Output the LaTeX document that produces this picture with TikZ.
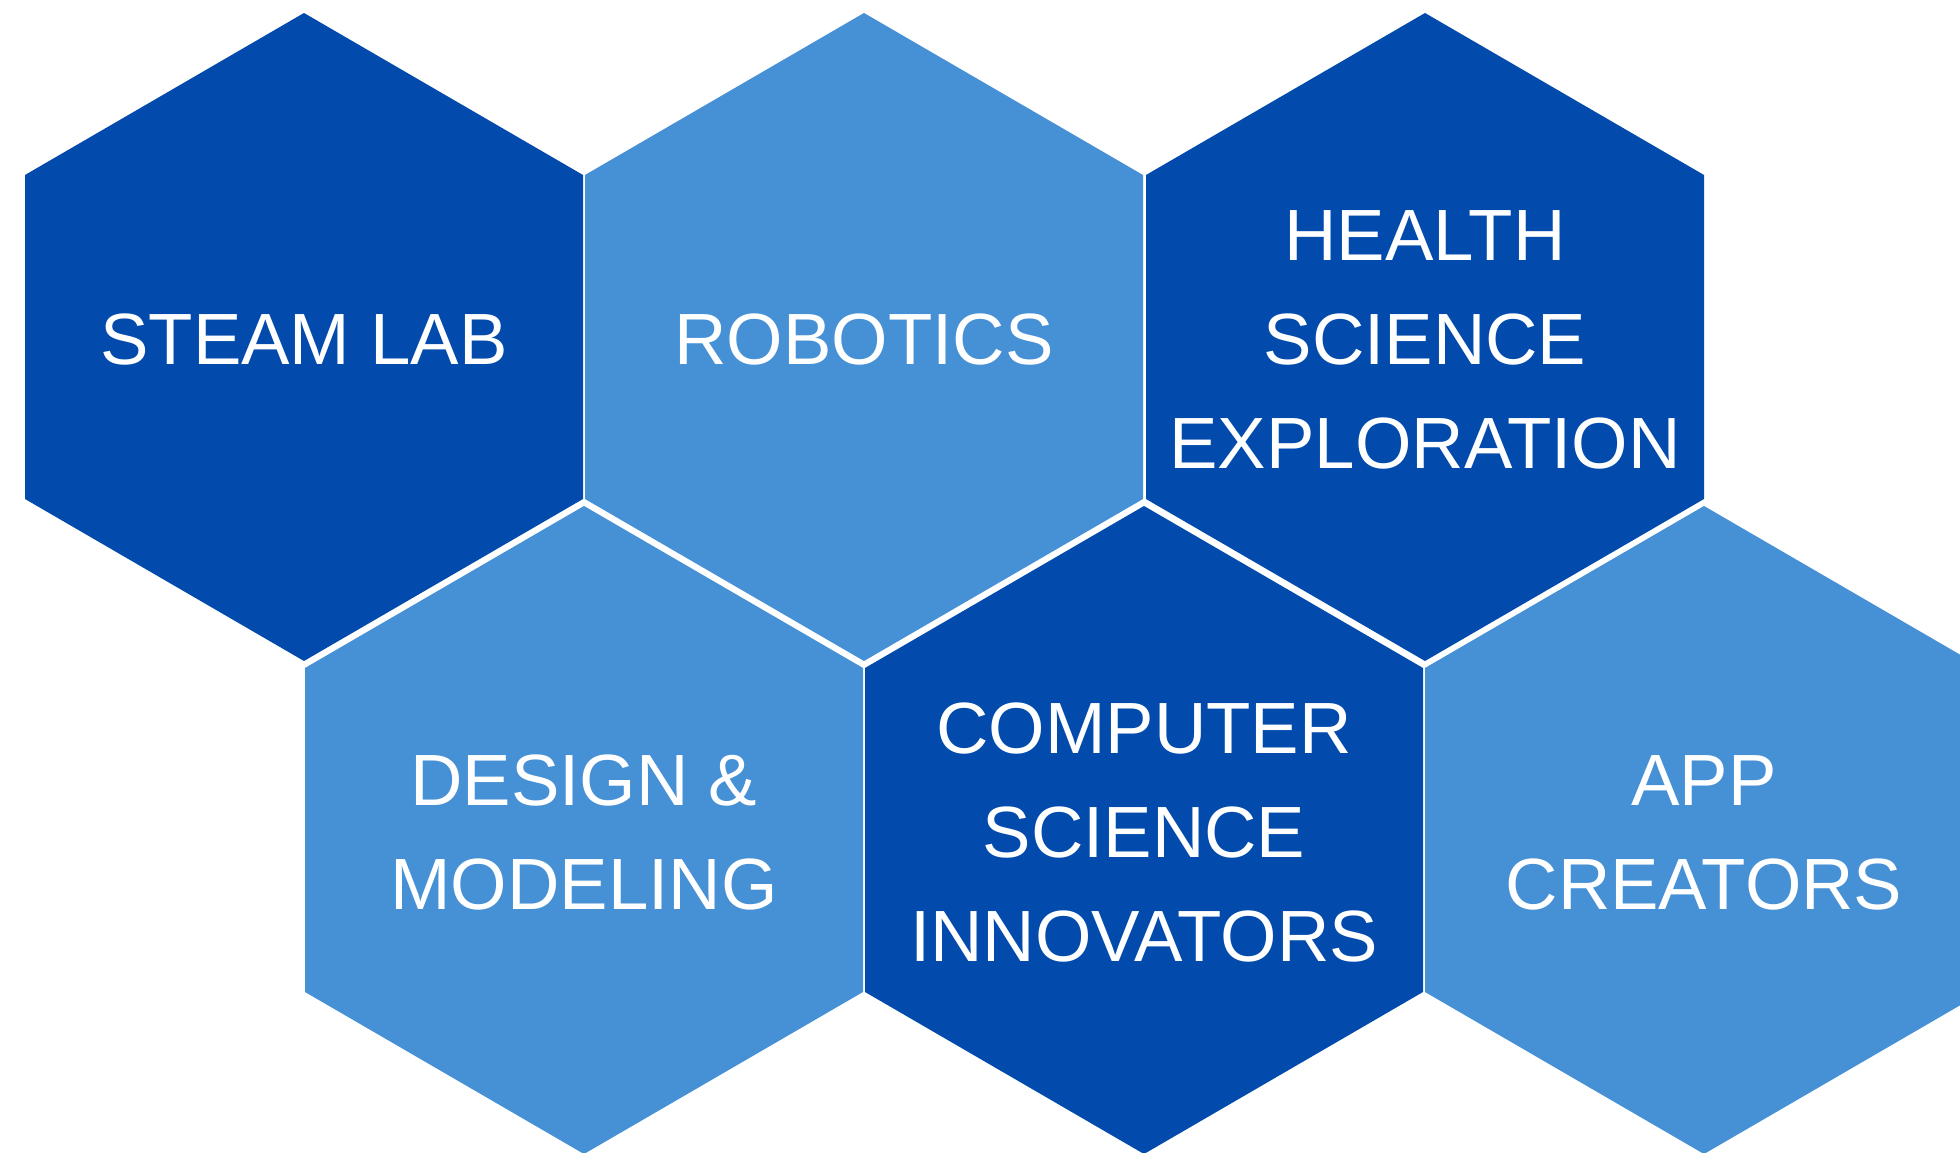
\documentclass[tikz,border=0pt]{standalone}
\usepackage{fontspec}
\setmainfont{Liberation Sans}
\definecolor{darkhex}{HTML}{024BAD}
\definecolor{lighthex}{HTML}{4690D6}
\tikzset{
  hexa/.pic={\fill[#1] (0,324) -- (279,162) -- (279,-162) -- (0,-324) -- (-279,-162) -- (-279,162) -- cycle;},
  label/.style={text=white, align=center, inner sep=0pt, yshift=-3pt, font=\fontsize{72.6}{104}\selectfont}
}
\begin{document}
\begin{tikzpicture}[x=1pt,y=1pt]
\useasboundingbox (0,0) rectangle (1960,1152);
\clip (0,0) rectangle (1960,1152);
\fill[white] (0,0) rectangle (1960,1152);
% row 1
\coordinate (c1) at (304,815);
\coordinate (c2) at (864,815);
\coordinate (c3) at (1425,815);
% row 2
\coordinate (c4) at (584,322);
\coordinate (c5) at (1144,322);
\coordinate (c6) at (1704,322);
\pic at (c1) {hexa=darkhex};
\pic at (c2) {hexa=lighthex};
\pic at (c3) {hexa=darkhex};
\pic at (c4) {hexa=lighthex};
\pic at (c5) {hexa=darkhex};
\pic at (c6) {hexa=lighthex};
\node[label] (steam) at (c1) {STEAM LAB};
\node[label] (robot) at (c2) {ROBOTICS};
\node[label] (health) at (c3) {HEALTH\\SCIENCE\\EXPLORATION};
\node[label] (design) at (c4) {DESIGN \&\\MODELING};
\node[label] (comp) at (c5) {COMPUTER\\SCIENCE\\INNOVATORS};
\node[label] (app) at (c6) {APP\\CREATORS};
\end{tikzpicture}
\end{document}
